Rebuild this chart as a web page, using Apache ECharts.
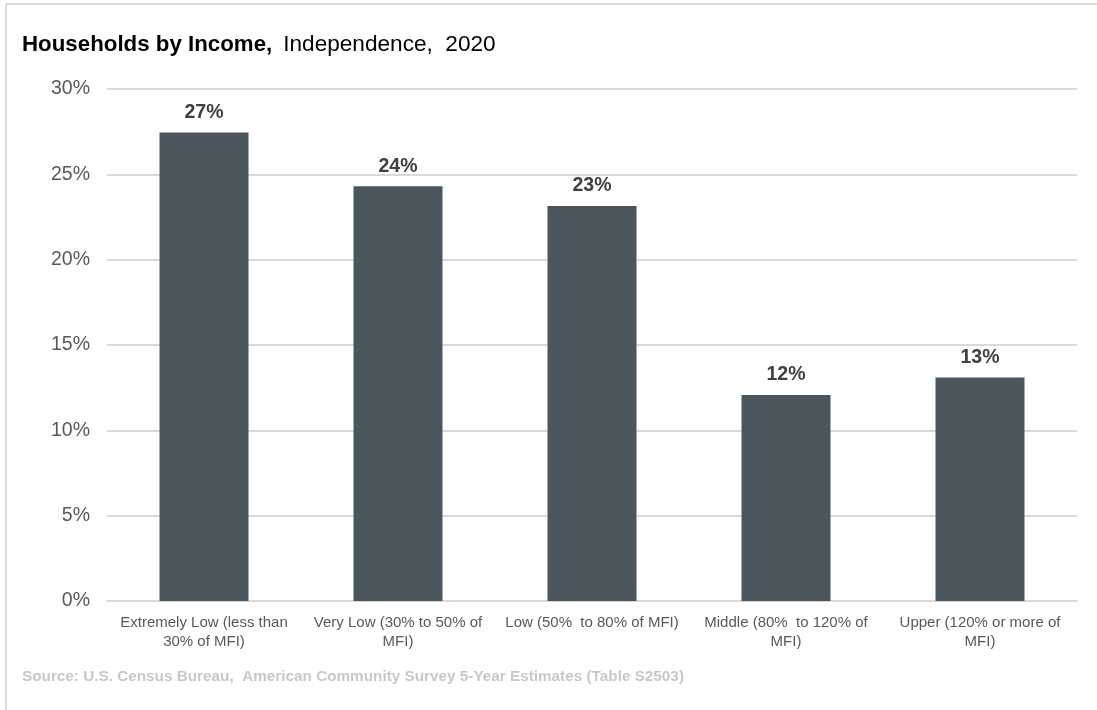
<!DOCTYPE html>
<html>
<head>
<meta charset="utf-8">
<script src="https://cdn.jsdelivr.net/npm/echarts@6/dist/echarts.min.js"></script>
<style>
  html, body { margin: 0; padding: 0; background: #ffffff; }
  #chart { width: 1097px; height: 710px; }
</style>
</head>
<body>
<div id="chart"></div>
<script>
// Household share by income band (percent of all households)
const categories = [
  'Extremely Low (less than\n30% of MFI)',
  'Very Low (30% to 50% of\nMFI)',
  'Low (50%  to 80% of MFI)',
  'Middle (80%  to 120% of\nMFI)',
  'Upper (120% or more of\nMFI)'
];
const shares = [27.45, 24.3, 23.15, 12.07, 13.1];
const yTicks = { min: 0, max: 30, step: 5 };

const sans = "'Liberation Sans', Arial, sans-serif";

const chart = echarts.init(document.getElementById('chart'), null, { renderer: 'canvas' });
chart.setOption({
  backgroundColor: '#ffffff',
  animation: false,
  title: [{
    left: 17,
    top: 28,
    padding: 5,
    text: '{b|Households by Income,}{r|Independence,  2020}',
    textStyle: {
      rich: {
        b: { fontFamily: sans, fontWeight: 'bold', fontSize: 22.3, color: '#000000' },
        r: { fontFamily: sans, fontWeight: 'normal', fontSize: 22.6, color: '#000000', padding: [0, 0, 0, 11] }
      }
    }
  }, {
    left: 17,
    top: 664,
    padding: 5,
    text: 'Source: U.S. Census Bureau,  American Community Survey 5-Year Estimates (Table S2503)',
    textStyle: { fontFamily: sans, fontWeight: 'bold', fontSize: 15.3, color: '#c8c8c8' }
  }],
  graphic: [
    { type: 'line', shape: { x1: 6, y1: 4, x2: 1097, y2: 4 }, style: { stroke: '#d9d9d9', lineWidth: 2 } },
    { type: 'line', shape: { x1: 6, y1: 4, x2: 6, y2: 710 }, style: { stroke: '#d9d9d9', lineWidth: 2 } }
  ],
  grid: { left: 107, right: 20, top: 89, bottom: 109 },
  xAxis: {
    type: 'category',
    data: categories,
    axisLine: { show: true, lineStyle: { color: '#d9d9d9', width: 2 } },
    axisTick: { show: false },
    axisLabel: {
      interval: 0,
      margin: 12,
      fontFamily: sans,
      fontSize: 15,
      lineHeight: 19,
      color: '#595959'
    }
  },
  yAxis: {
    type: 'value',
    min: yTicks.min,
    max: yTicks.max,
    interval: yTicks.step,
    axisLine: { show: false },
    axisTick: { show: false },
    splitLine: { lineStyle: { color: '#d9d9d9', width: 2 } },
    axisLabel: {
      formatter: '{value}%',
      margin: 17,
      padding: [4, 0, 0, 0],
      fontFamily: sans,
      fontSize: 19.5,
      color: '#595959'
    }
  },
  series: [{
    type: 'bar',
    data: shares,
    barWidth: 89,
    itemStyle: { color: '#4b555c' },
    label: {
      show: true,
      position: 'top',
      distance: 10,
      formatter: p => Math.round(p.value) + '%',
      fontFamily: sans,
      fontWeight: 'bold',
      fontSize: 19.5,
      color: '#404040'
    }
  }]
});
</script>
</body>
</html>
